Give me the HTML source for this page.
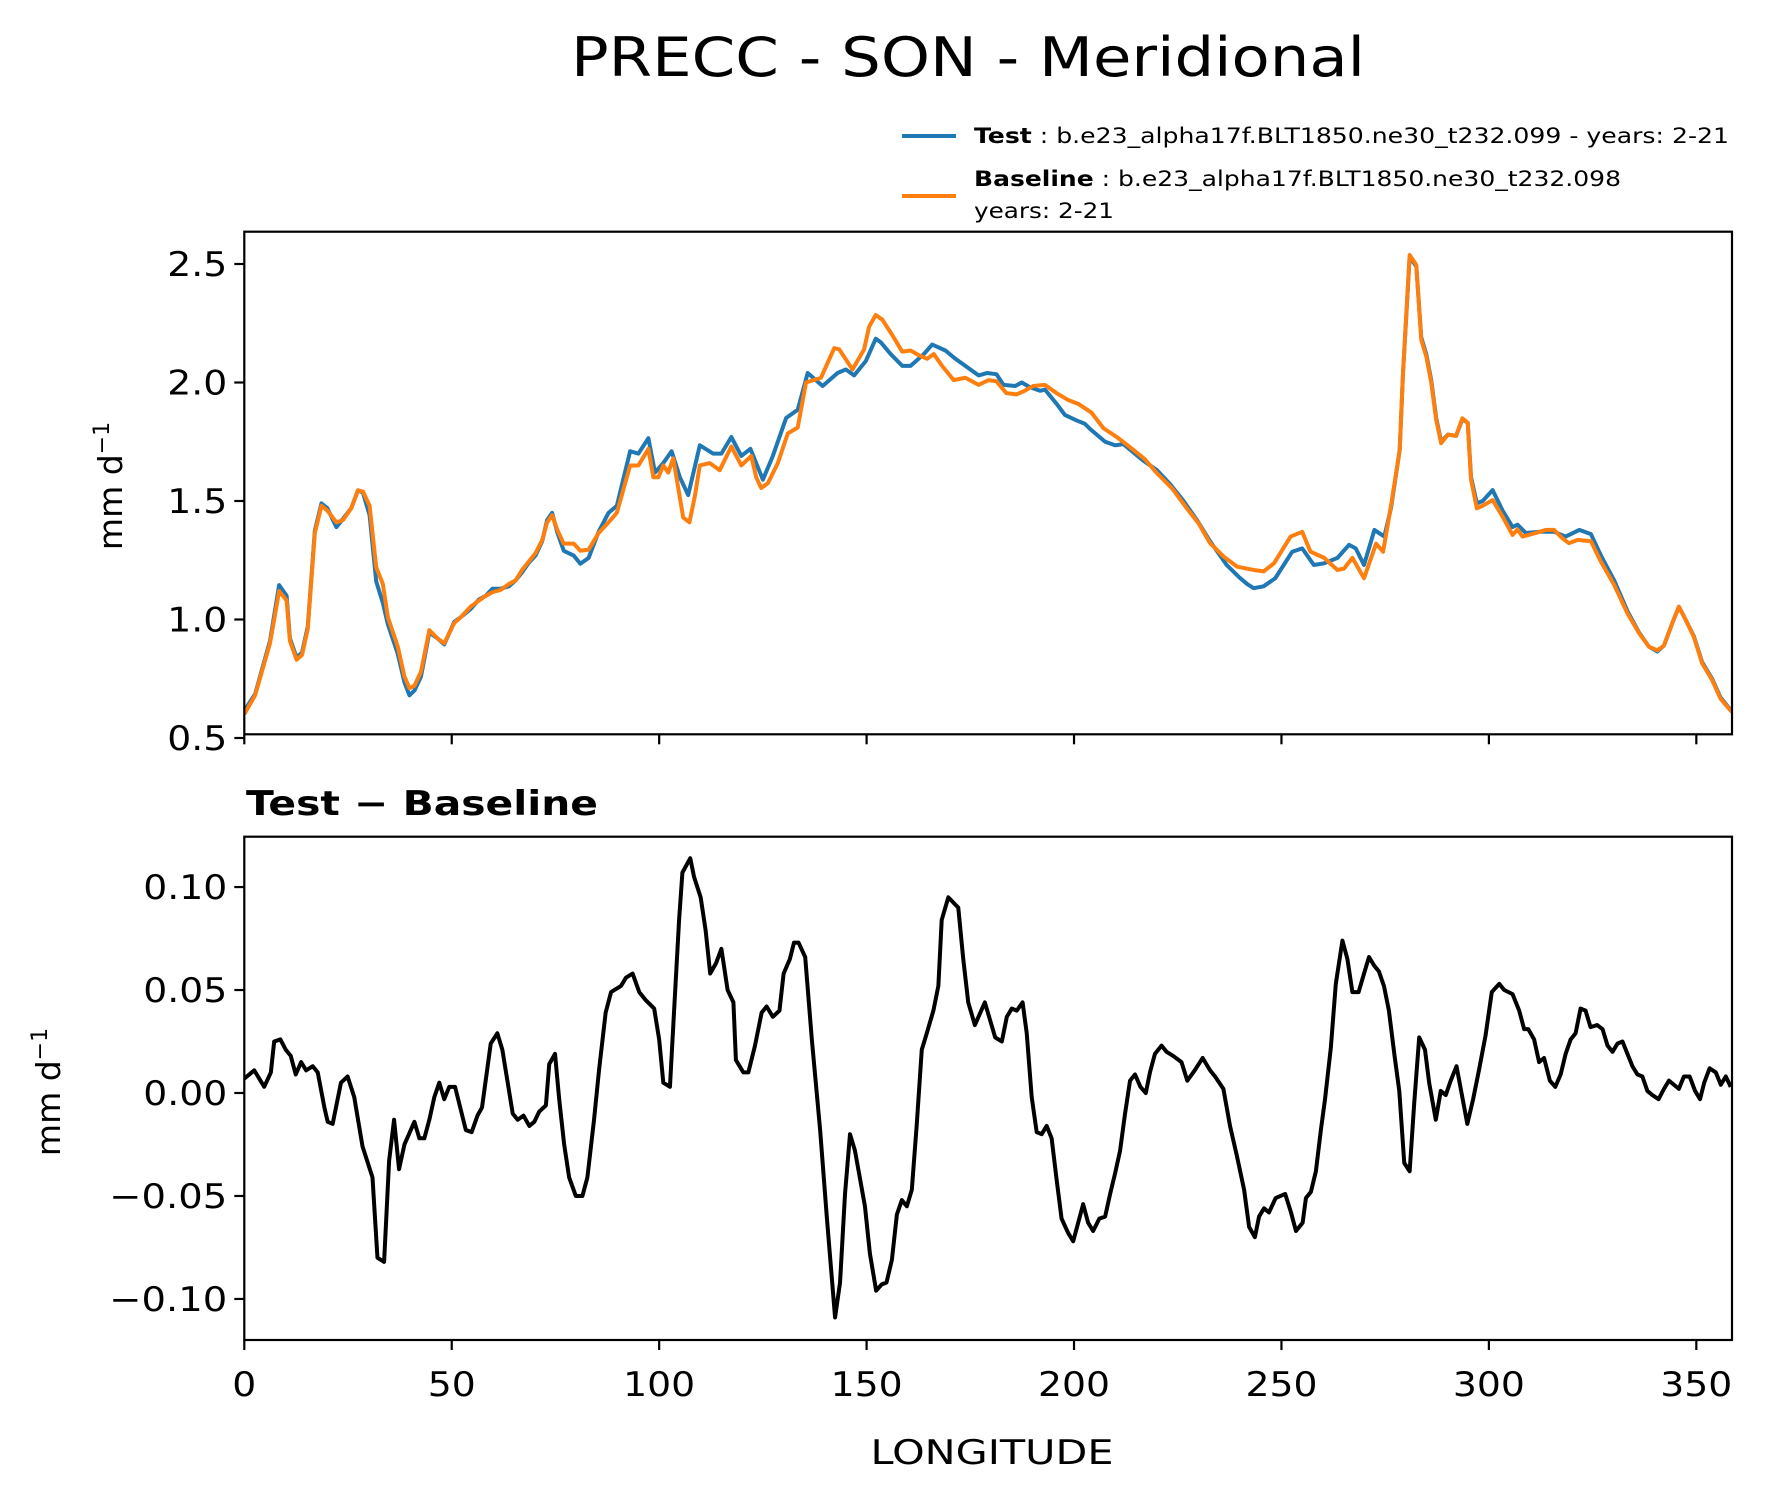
<!DOCTYPE html>
<html><head><meta charset="utf-8"><style>
body{margin:0;background:#fff}
svg{display:block;font-family:"DejaVu Sans","Liberation Sans",sans-serif}
</style></head><body>
<svg id="fig" width="1765" height="1496" viewBox="0 0 1765 1496" xmlns="http://www.w3.org/2000/svg">
<rect width="1765" height="1496" fill="#fff"/>
<text x="968" y="76" font-size="54" text-anchor="middle" textLength="794" lengthAdjust="spacingAndGlyphs">PRECC - SON - Meridional</text>
<g>
<line x1="902" y1="136" x2="956" y2="136" stroke="#1f77b4" stroke-width="4"/>
<text x="974" y="143" font-size="21" textLength="755" lengthAdjust="spacingAndGlyphs"><tspan font-weight="bold">Test</tspan> : b.e23_alpha17f.BLT1850.ne30_t232.099 - years: 2-21</text>
<line x1="902" y1="196" x2="956" y2="196" stroke="#ff7f0e" stroke-width="4"/>
<text x="974" y="186" font-size="21" textLength="647" lengthAdjust="spacingAndGlyphs"><tspan font-weight="bold">Baseline</tspan> : b.e23_alpha17f.BLT1850.ne30_t232.098</text>
<text x="974" y="218" font-size="21" textLength="140" lengthAdjust="spacingAndGlyphs">years: 2-21</text>
</g>
<g id="top"></g>
<g id="bot"></g>
<text x="246" y="815" font-size="34" font-weight="bold" textLength="352" lengthAdjust="spacingAndGlyphs">Test − Baseline</text>
<text x="992" y="1464" font-size="34" text-anchor="middle" textLength="243" lengthAdjust="spacingAndGlyphs">LONGITUDE</text>
<text transform="translate(122,486) rotate(-90)" font-size="33" text-anchor="middle">mm d<tspan font-size="22" dy="-13">−1</tspan></text>
<text transform="translate(60,1092) rotate(-90)" font-size="33" text-anchor="middle">mm d<tspan font-size="22" dy="-13">−1</tspan></text>
</svg>
<script>
const baseLon=[0,2.6,6.2,8.4,10.2,11,12.6,13.9,15.3,17,18.6,20,22.2,23.8,25.8,27.4,28.6,30.2,31.8,33.4,34.6,37,38.6,39.8,41,42.6,44.6,46.6,48.2,50.6,52.2,54.6,56.6,58.2,59.8,61.8,63.8,65.4,67,68.6,70.2,71.8,73,74.2,75.4,77,79.4,81,83,85.4,87.8,89.8,93,95,97.4,98.6,99.8,101,102.2,103.4,105.8,107.3,108.6,109.8,112.2,114.6,117.4,119.8,122.2,123.4,124.6,126.2,128.6,131,133.4,135.4,139,142.2,143.4,146.6,149.4,150.6,152.2,153.8,156.2,158.6,160.6,162.6,164.6,166.2,168.2,171,173.8,177,179.4,181.3,183.7,186.1,188.1,190.1,193,195.8,198.6,201,204.2,207.1,210.3,213.5,217.1,220,223.6,227.2,230,232.8,236.1,239.3,243.3,245.7,248.2,252.2,255,257,260.3,263.5,265.1,267.1,269.9,272.8,274.5,276.5,278.5,279.3,280.9,282.5,283.7,284.9,286.1,287.3,288.5,290.1,292.1,293.6,294.9,295.7,297.1,298.5,300.9,303.3,305.7,306.9,308.1,311.3,313.7,315.7,317.7,319.3,321.4,324.6,327,330.2,333.4,336.2,338.6,340.6,342.2,344.2,345.8,347.4,349.4,351.4,353.8,355.8,357.8,358.6];
const baseVal=[0.60,0.68,0.90,1.12,1.08,0.91,0.83,0.85,0.96,1.365,1.48,1.46,1.41,1.42,1.47,1.545,1.54,1.48,1.22,1.15,1.01,0.885,0.76,0.71,0.72,0.78,0.955,0.92,0.90,0.985,1.01,1.055,1.08,1.10,1.115,1.125,1.15,1.165,1.21,1.245,1.28,1.335,1.41,1.44,1.38,1.32,1.32,1.29,1.295,1.365,1.41,1.45,1.65,1.65,1.72,1.60,1.60,1.65,1.62,1.68,1.43,1.41,1.52,1.65,1.66,1.63,1.73,1.65,1.69,1.60,1.555,1.575,1.66,1.785,1.81,2.00,2.02,2.145,2.14,2.055,2.14,2.235,2.285,2.265,2.20,2.13,2.135,2.115,2.10,2.12,2.07,2.01,2.02,1.99,2.01,2.005,1.955,1.95,1.965,1.985,1.99,1.955,1.926,1.91,1.873,1.807,1.77,1.727,1.676,1.617,1.554,1.469,1.406,1.322,1.265,1.223,1.209,1.203,1.237,1.35,1.37,1.286,1.26,1.209,1.215,1.26,1.174,1.32,1.286,1.49,1.715,2.04,2.538,2.496,2.18,2.11,2.00,1.842,1.744,1.78,1.775,1.849,1.83,1.589,1.469,1.48,1.504,1.434,1.357,1.38,1.35,1.365,1.378,1.378,1.343,1.322,1.336,1.33,1.244,1.146,1.026,0.942,0.885,0.87,0.89,0.984,1.054,1.00,0.927,0.815,0.745,0.667,0.625,0.61];
const testLon=[0,2.6,6.2,8.4,10.2,11,12.6,13.9,15.3,17,18.6,20,22.2,23.8,25.8,27.4,28.6,30.2,31.8,33.4,34.6,37,38.6,39.8,41,42.6,44.6,46.6,48.2,50.6,52.2,54.6,56.6,58.2,59.8,61.8,63.8,65.4,67,68.6,70.2,71.8,73,74.2,75.4,77,79.4,81,83,85.4,87.8,89.8,93,95,97.4,99,101,103,105,107,109.8,113,115,117.4,119.8,122,125,127.4,130.6,133.4,135.8,139.4,143,145,147,149.8,152.2,153.4,155.8,158.6,160.6,163.8,165.8,169,171.4,173.8,177,179,181.3,183,185.8,187.4,189.4,191.8,193,195.8,197.8,200.6,202.6,203.8,207.5,209.9,211.9,216.7,220,223.2,226.4,229.6,232.8,236.8,239.7,241.7,243.3,245.7,248.5,252.6,255,257.8,260.3,263.5,266.3,267.9,269.9,272.4,274.8,276.4,278.5,279.3,280.9,282.5,283.7,284.9,286.1,287.3,288.5,290.1,292.1,293.6,294.9,295.7,297.1,298.5,300.9,303.3,305.7,306.9,308.9,312,315.7,318.5,321.8,324.6,327,330.2,333.4,336.2,338.6,340.6,342.2,344.2,345.8,347.4,349.4,351.4,353.8,355.8,357.8,358.6];
const testVal=[0.615,0.685,0.91,1.145,1.10,0.92,0.84,0.86,0.97,1.375,1.49,1.47,1.39,1.425,1.47,1.545,1.535,1.44,1.16,1.07,0.98,0.855,0.735,0.68,0.70,0.76,0.945,0.92,0.895,0.99,1.01,1.045,1.085,1.10,1.13,1.13,1.14,1.165,1.20,1.24,1.27,1.33,1.42,1.45,1.37,1.29,1.27,1.235,1.26,1.37,1.45,1.48,1.71,1.70,1.765,1.62,1.66,1.71,1.60,1.525,1.735,1.70,1.70,1.77,1.69,1.72,1.59,1.69,1.85,1.885,2.04,1.985,2.04,2.055,2.03,2.09,2.185,2.17,2.12,2.07,2.07,2.12,2.16,2.135,2.10,2.07,2.03,2.04,2.035,1.99,1.985,2.00,1.98,1.965,1.97,1.91,1.863,1.84,1.826,1.805,1.75,1.735,1.74,1.67,1.63,1.57,1.50,1.42,1.33,1.23,1.18,1.15,1.132,1.14,1.174,1.286,1.30,1.23,1.237,1.26,1.315,1.30,1.23,1.378,1.35,1.47,1.715,2.04,2.53,2.49,2.19,2.12,2.01,1.85,1.75,1.78,1.775,1.845,1.83,1.60,1.49,1.50,1.546,1.46,1.39,1.40,1.365,1.37,1.37,1.35,1.378,1.36,1.27,1.165,1.035,0.945,0.885,0.865,0.89,0.984,1.054,1.00,0.93,0.82,0.75,0.672,0.628,0.615];
const diffLon=[0,2.4,4.8,6.4,7.2,8.7,10,11.2,12.4,13.7,14.9,16.5,17.7,19.3,20.1,21.3,23.3,24.9,26.5,28.5,30.9,32.1,33.7,34.9,36.1,37.3,38.6,41,42.2,43.4,44.6,45.8,47,48.2,49.4,50.8,53.4,54.8,56.2,57.3,59.4,61,62.2,64.7,65.9,67.3,68.7,69.9,71.1,72.7,73.5,74.9,75.9,77.1,78.3,79.9,81.5,82.7,84.3,85.5,87.1,88.4,90.8,92,93.6,95.2,96.8,98.8,100,101,102.6,103.6,104.8,105.6,107.5,108.4,110,111.2,112.3,113.7,115,116.5,117.9,118.5,120.3,121.5,123.1,124.7,125.9,127.4,129,130,131.5,132.5,133.6,135.2,136.8,138.8,140.4,142.4,143.6,144.8,146,147.2,149.6,150.8,152.3,153.6,154.8,156.1,157.3,158.5,159.7,160.9,162.1,163.3,164.5,166.1,167.3,168.1,169.7,172.1,173.3,174.5,176.1,178.5,181,182.6,183.8,185,186.2,187.6,188.6,189.8,191,192.2,193.4,194.6,195.8,197,198.6,199.8,201,202.2,203.4,204.6,206.1,207.5,208.7,209.9,211.1,212.3,213.5,214.7,216,217.3,218.3,219.5,221.1,222.3,223.9,225.9,227.3,229.1,231,232.8,234,236,237.6,239.2,241,242.2,243.6,244.6,245.8,247,248.6,250.9,252.3,253.5,255.1,255.9,257.1,258.3,259.5,260.5,261.9,263.1,264.7,265.9,267.1,268.6,269.9,271.1,272.3,273.5,274.7,275.9,277.2,278.4,279.6,280.9,282,283.2,284.6,285.6,287.2,288.4,289.6,290.8,292.2,293.5,294.8,296.2,297.6,299.2,300.7,302.5,303.7,305.7,307.3,308.5,309.5,310.9,312.1,313.3,314.7,316,317.3,318.5,319.7,320.9,322.1,323.3,324.5,326.1,327.4,328.6,329.8,331,332.2,333.4,334.6,335.8,337,338.2,339.4,340.9,342.2,343.4,344.6,345.8,347,348.4,349.7,350.9,351.9,353.2,354.7,355.9,357.1,358.3];
const diffVal=[0.007,0.011,0.003,0.010,0.025,0.026,0.021,0.018,0.009,0.015,0.011,0.013,0.010,-0.007,-0.014,-0.015,0.005,0.008,-0.002,-0.026,-0.041,-0.080,-0.082,-0.033,-0.013,-0.037,-0.025,-0.014,-0.022,-0.022,-0.013,-0.002,0.005,-0.003,0.003,0.003,-0.018,-0.019,-0.011,-0.007,0.024,0.029,0.021,-0.010,-0.013,-0.011,-0.016,-0.014,-0.009,-0.006,0.014,0.019,-0.003,-0.025,-0.041,-0.050,-0.050,-0.041,-0.013,0.011,0.039,0.049,0.052,0.056,0.058,0.049,0.045,0.041,0.026,0.005,0.003,0.040,0.084,0.107,0.114,0.105,0.095,0.079,0.058,0.063,0.070,0.050,0.044,0.016,0.010,0.010,0.023,0.039,0.042,0.037,0.040,0.058,0.065,0.073,0.073,0.066,0.026,-0.018,-0.060,-0.109,-0.092,-0.049,-0.020,-0.028,-0.055,-0.078,-0.096,-0.093,-0.092,-0.081,-0.059,-0.052,-0.055,-0.047,-0.015,0.021,0.029,0.040,0.052,0.084,0.095,0.090,0.065,0.044,0.033,0.044,0.027,0.025,0.037,0.041,0.040,0.044,0.029,-0.002,-0.019,-0.020,-0.016,-0.022,-0.042,-0.061,-0.068,-0.072,-0.063,-0.054,-0.063,-0.067,-0.061,-0.060,-0.049,-0.039,-0.028,-0.010,0.006,0.009,0.003,0.000,0.010,0.019,0.023,0.020,0.018,0.015,0.006,0.011,0.017,0.011,0.008,0.002,-0.016,-0.030,-0.047,-0.065,-0.070,-0.060,-0.056,-0.058,-0.051,-0.049,-0.058,-0.067,-0.063,-0.051,-0.048,-0.038,-0.018,-0.003,0.022,0.053,0.074,0.065,0.049,0.049,0.058,0.066,0.062,0.059,0.052,0.040,0.019,0.001,-0.034,-0.038,-0.005,0.027,0.021,0.005,-0.013,0.001,-0.001,0.006,0.013,-0.001,-0.015,-0.003,0.011,0.028,0.049,0.053,0.050,0.048,0.040,0.031,0.031,0.026,0.015,0.017,0.006,0.003,0.009,0.019,0.026,0.029,0.041,0.040,0.032,0.033,0.031,0.023,0.020,0.024,0.025,0.019,0.013,0.009,0.008,0.001,-0.001,-0.003,0.002,0.006,0.004,0.002,0.008,0.008,0.001,-0.003,0.005,0.012,0.010,0.004,0.008,0.003];
const xTicks=[0,50,100,150,200,250,300,350];
const topTicks=[0.5,1.0,1.5,2.0,2.5];
const topTickLabels=["0.5","1.0","1.5","2.0","2.5"];
const botTicks=[-0.10,-0.05,0.00,0.05,0.10];
const botTickLabels=["−0.10","−0.05","0.00","0.05","0.10"];

const NS="http://www.w3.org/2000/svg";
const L=244.3,R=1732,XMAX=358.6;
const xs=v=>L+(v/XMAX)*(R-L);
const T1=231.7,B1=734.3,T2=836.7,B2=1340;
const ysTop=v=>264+(2.5-v)*237;
const ysBot=v=>1093-v*2059.5;
function mk(tag,attrs,parent){const e=document.createElementNS(NS,tag);for(const k in attrs)e.setAttribute(k,attrs[k]);parent.appendChild(e);return e;}
function tlen(s){let w=0;for(const c of s){w+= c==='.'?12:(c==='−'?34:24);}return w;}
function path(lons,vals,ys){return lons.map((l,i)=>(i?"L":"M")+xs(l).toFixed(2)+","+ys(vals[i]).toFixed(2)).join(" ");}
function panel(g,top,bot,ticks,labels,ys,showX,nm){
  const cp=mk("clipPath",{id:"cp"+nm},g);
  mk("rect",{x:L,y:top,width:R-L,height:bot-top},cp);
  ticks.forEach((t,i)=>{
    const y=ys(t);
    const tk=mk("line",{x1:L-10,x2:L,y1:y,y2:y,stroke:"#000","stroke-width":2.2},g);
    
    
    const tx=mk("text",{x:L-17,y:y+12,"font-size":34,"text-anchor":"end",textLength:tlen(labels[i]),lengthAdjust:"spacingAndGlyphs"},g);
    tx.textContent=labels[i];
    
    
  });
  xTicks.forEach(t=>{
    const x=xs(t);
    const tk=mk("line",{x1:x,x2:x,y1:bot,y2:bot+10,stroke:"#000","stroke-width":2.2},g);
    
    
    if(showX){
      const s=String(t);
      const tx=mk("text",{x:x,y:bot+56,"font-size":34,"text-anchor":"middle",textLength:tlen(s),lengthAdjust:"spacingAndGlyphs"},g);
      tx.textContent=s;
      
      
    }
  });
  return "url(#cp"+nm+")";
}
const gt=document.getElementById("top"),gb=document.getElementById("bot");
const c1=panel(gt,T1,B1,topTicks,topTickLabels,ysTop,false,"t");
const pTest=mk("path",{d:path(testLon,testVal,ysTop),fill:"none",stroke:"#1f77b4","stroke-width":4,"stroke-linejoin":"round","clip-path":c1},gt);


const pBase=mk("path",{d:path(baseLon,baseVal,ysTop),fill:"none",stroke:"#ff7f0e","stroke-width":4,"stroke-linejoin":"round","clip-path":c1},gt);


const f1=mk("rect",{x:L,y:T1,width:R-L,height:B1-T1,fill:"none",stroke:"#000","stroke-width":2.2},gt);


const c2=panel(gb,T2,B2,botTicks,botTickLabels,ysBot,true,"b");
const pDiff=mk("path",{d:path(diffLon,diffVal,ysBot),fill:"none",stroke:"#000","stroke-width":4,"stroke-linejoin":"round","clip-path":c2},gb);


const f2=mk("rect",{x:L,y:T2,width:R-L,height:B2-T2,fill:"none",stroke:"#000","stroke-width":2.2},gb);


</script>
</body></html>
